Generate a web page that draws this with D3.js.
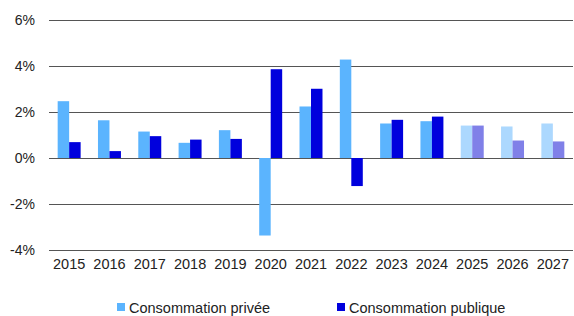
<!DOCTYPE html>
<html>
<head>
<meta charset="utf-8">
<script src="https://cdn.jsdelivr.net/npm/d3@7"></script>
<style>
  body { margin: 0; background: #fff; }
  text { font-family: "Liberation Sans", Arial, sans-serif; }
</style>
</head>
<body>
<div id="chart"></div>
<script>
// données
const years = ['2015','2016','2017','2018','2019','2020','2021','2022','2023','2024','2025','2026','2027']
const privee = [2.47, 1.64, 1.15, 0.66, 1.21, -3.37, 2.24, 4.28, 1.50, 1.60, 1.41, 1.37, 1.50]
const publique = [0.69, 0.30, 0.95, 0.80, 0.83, 3.86, 3.01, -1.22, 1.66, 1.80, 1.41, 0.76, 0.72]
const forecastFrom = '2025'
const yTicks = [-4, -2, 0, 2, 4, 6]
const seriesNames = ['Consommation privée', 'Consommation publique']

const width = 574, height = 316
const margin = {left: 49, top: 20, right: 1, bottom: 66}

const svg = d3.select('#chart')
    .append('svg')
    .attr('width', width)
    .attr('height', height)

const x = d3.scaleBand()
    .domain(years)
    .range([margin.left, width - margin.right])
    .paddingInner(0.43)
    .paddingOuter(0.215)

const y = d3.scaleLinear()
    .domain([-4, 6])
    .range([height - margin.bottom, margin.top])

const colPriv = '#5bb4fe', colPub = '#0000dd'
const colPrivF = '#acd8fe', colPubF = '#8080e8'
const isF = d => +d >= +forecastFrom

// grille
svg.append('g')
    .selectAll('line')
    .data(yTicks)
    .enter()
    .append('line')
    .attr('x1', margin.left)
    .attr('x2', width - margin.right)
    .attr('y1', d => Math.round(y(d)) + 0.5)
    .attr('y2', d => Math.round(y(d)) + 0.5)
    .attr('stroke', '#555')
    .attr('stroke-width', 1)

const bw = x.bandwidth() / 2

// barres privée
svg.append('g')
    .selectAll('rect')
    .data(years)
    .enter()
    .append('rect')
    .attr('x', d => x(d))
    .attr('width', bw)
    .attr('y', (d, i) => y(Math.max(0, privee[i])))
    .attr('height', (d, i) => Math.abs(y(privee[i]) - y(0)))
    .attr('fill', d => isF(d) ? colPrivF : colPriv)

// barres publique
svg.append('g')
    .selectAll('rect')
    .data(years)
    .enter()
    .append('rect')
    .attr('x', d => x(d) + bw)
    .attr('width', bw)
    .attr('y', (d, i) => y(Math.max(0, publique[i])))
    .attr('height', (d, i) => Math.abs(y(publique[i]) - y(0)))
    .attr('fill', d => isF(d) ? colPubF : colPub)

// axe y
const yAxis = d3.axisLeft(y).tickValues(yTicks).tickFormat(d => d + '%').tickSize(0).tickPadding(14)
svg.append('g')
    .attr('transform', `translate(${margin.left},0)`)
    .call(yAxis)
    .call(g => g.select('.domain').remove())
    .selectAll('text')
    .attr('font-size', 14)
    .attr('fill', '#222')
    .attr('font-family', '"Liberation Sans", Arial, sans-serif')

// axe x
const xAxis = d3.axisBottom(x).tickSize(0).tickPadding(9)
svg.append('g')
    .attr('transform', `translate(0,${y(-4)})`)
    .call(xAxis)
    .call(g => g.select('.domain').remove())
    .selectAll('text')
    .attr('font-size', 14.5)
    .attr('fill', '#222')
    .attr('font-family', '"Liberation Sans", Arial, sans-serif')

// légende
const legX = [117, 337]
const leg = svg.append('g')
leg.selectAll('rect')
    .data(seriesNames)
    .enter()
    .append('rect')
    .attr('x', (d, i) => legX[i])
    .attr('y', 303)
    .attr('width', 8)
    .attr('height', 8)
    .attr('fill', (d, i) => i === 0 ? colPriv : colPub)
leg.selectAll('text')
    .data(seriesNames)
    .enter()
    .append('text')
    .attr('x', (d, i) => legX[i] + 12)
    .attr('y', 313)
    .attr('font-size', 14.5)
    .attr('fill', '#222')
    .text(d => d)
</script>
</body>
</html>
